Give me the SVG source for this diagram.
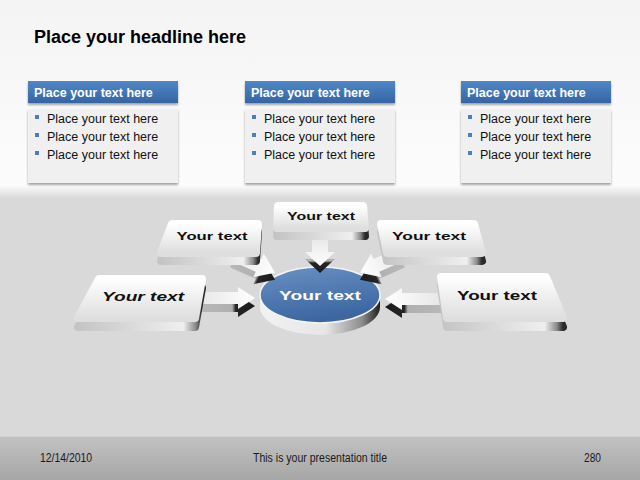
<svg xmlns="http://www.w3.org/2000/svg" xmlns:xlink="http://www.w3.org/1999/xlink" width="640" height="480" viewBox="0 0 640 480">
<defs>
<linearGradient id="bgTop" x1="0" y1="0" x2="0" y2="1"><stop offset="0" stop-color="#f4f4f4"/><stop offset="1" stop-color="#fcfcfc"/></linearGradient>
<linearGradient id="bgBand" x1="0" y1="0" x2="0" y2="1"><stop offset="0" stop-color="#fafafa"/><stop offset="1" stop-color="#d9d9d9"/></linearGradient>
<linearGradient id="footG" x1="0" y1="0" x2="0" y2="1"><stop offset="0" stop-color="#c2c2c2"/><stop offset="1" stop-color="#a6a6a6"/></linearGradient>
<linearGradient id="headG" x1="0" y1="0" x2="0" y2="1"><stop offset="0" stop-color="#5187c6"/><stop offset="1" stop-color="#3664a4"/></linearGradient>
<linearGradient id="faceG" x1="0" y1="0" x2="0" y2="1"><stop offset="0" stop-color="#ffffff"/><stop offset="1" stop-color="#dedede"/></linearGradient>
<linearGradient id="sideG" x1="0" y1="0" x2="1" y2="0"><stop offset="0" stop-color="#c4c4c4"/><stop offset="0.85" stop-color="#efefef"/><stop offset="0.95" stop-color="#8a8a8a"/><stop offset="1" stop-color="#2a2a2a"/></linearGradient>
<linearGradient id="arrFace" x1="0" y1="0" x2="1" y2="0"><stop offset="0" stop-color="#e6e6e6"/><stop offset="1" stop-color="#ffffff"/></linearGradient>
<linearGradient id="arrSide" x1="0" y1="0" x2="1" y2="0"><stop offset="0" stop-color="#b8b8b8"/><stop offset="0.6" stop-color="#b0b0b0"/><stop offset="0.66" stop-color="#262626"/><stop offset="1" stop-color="#1a1a1a"/></linearGradient>
<linearGradient id="discG" x1="0" y1="0" x2="0.3" y2="1"><stop offset="0" stop-color="#6a91c4"/><stop offset="1" stop-color="#3b66a0"/></linearGradient>
<linearGradient id="cylG" x1="0" y1="0" x2="1" y2="0"><stop offset="0" stop-color="#f2f2f2"/><stop offset="0.55" stop-color="#e6e6e6"/><stop offset="0.85" stop-color="#8c8c8c"/><stop offset="1" stop-color="#1e1e1e"/></linearGradient>
<filter id="sh" x="-10%" y="-10%" width="120%" height="140%"><feDropShadow dx="0" dy="2" stdDeviation="1.2" flood-color="#000" flood-opacity="0.35"/></filter>
<style>
.hl{font-family:"Liberation Sans",Arial,sans-serif;font-weight:bold;font-size:18px;fill:#000}
.ph{font-family:"Liberation Sans",Arial,sans-serif;font-weight:bold;font-size:12.5px;fill:#fff}
.bt{font-family:"Liberation Sans",Arial,sans-serif;font-size:12.5px;fill:#111}
.bul{fill:#4a7cc0}
.body{fill:#f0f0f0}
.head{fill:url(#headG)}
.ft{font-family:"Liberation Sans Narrow","Liberation Sans",Arial,sans-serif;font-size:12px;fill:#1a1a1a}
.face{fill:url(#faceG);stroke:url(#faceG);stroke-width:8;stroke-linejoin:round}
.side{fill:url(#sideG);stroke:url(#sideG);stroke-width:8;stroke-linejoin:round}
.yt{font-family:"Liberation Sans",Arial,sans-serif;font-weight:bold;fill:#111;text-anchor:middle}
.af{fill:url(#arrFace)}
.as{fill:url(#arrSide)}
</style>
<path id="aLong" d="M0,-6 L40,-6 L40,-11 L57,0 L40,11 L40,6 L0,6 Z"/>
<path id="aDiag" d="M0,-7 L28,-7 L28,-13 L46,0 L28,13 L28,7 L0,7 Z"/>
<path id="aShort" d="M0,-8 L16,-8 L16,-15 L30,0 L16,15 L16,8 L0,8 Z"/>
</defs>

<!-- background -->
<rect x="0" y="0" width="640" height="186" fill="url(#bgTop)"/>
<rect x="0" y="186" width="640" height="12" fill="url(#bgBand)"/>
<rect x="0" y="198" width="640" height="238" fill="#d9d9d9"/>
<rect x="0" y="436" width="640" height="44" fill="url(#footG)"/>
<line x1="0" y1="436.5" x2="640" y2="436.5" stroke="#d0d0d0" stroke-width="1"/>

<text class="hl" x="34" y="43">Place your headline here</text>

<!-- top panels -->
<g id="panel1">
  <rect class="body" x="28" y="109" width="150" height="74" filter="url(#sh)"/>
  <rect class="head" x="28" y="81" width="150" height="22" filter="url(#sh)"/>
  <text class="ph" x="34" y="97">Place your text here</text>
  <rect class="bul" x="35" y="115" width="4" height="4"/><text class="bt" x="47" y="123">Place your text here</text>
  <rect class="bul" x="35" y="133" width="4" height="4"/><text class="bt" x="47" y="141">Place your text here</text>
  <rect class="bul" x="35" y="151" width="4" height="4"/><text class="bt" x="47" y="159">Place your text here</text>
</g>
<g id="panel2">
  <rect class="body" x="245" y="109" width="150" height="74" filter="url(#sh)"/>
  <rect class="head" x="245" y="81" width="150" height="22" filter="url(#sh)"/>
  <text class="ph" x="251" y="97">Place your text here</text>
  <rect class="bul" x="252" y="115" width="4" height="4"/><text class="bt" x="264" y="123">Place your text here</text>
  <rect class="bul" x="252" y="133" width="4" height="4"/><text class="bt" x="264" y="141">Place your text here</text>
  <rect class="bul" x="252" y="151" width="4" height="4"/><text class="bt" x="264" y="159">Place your text here</text>
</g>
<g id="panel3">
  <rect class="body" x="461" y="109" width="150" height="74" filter="url(#sh)"/>
  <rect class="head" x="461" y="81" width="150" height="22" filter="url(#sh)"/>
  <text class="ph" x="467" y="97">Place your text here</text>
  <rect class="bul" x="468" y="115" width="4" height="4"/><text class="bt" x="480" y="123">Place your text here</text>
  <rect class="bul" x="468" y="133" width="4" height="4"/><text class="bt" x="480" y="141">Place your text here</text>
  <rect class="bul" x="468" y="151" width="4" height="4"/><text class="bt" x="480" y="159">Place your text here</text>
</g>

<!-- center disc -->
<g id="center">
  <path d="M260,295 A60,28 0 0,0 380,295 L380,307 A60,28 0 0,1 260,307 Z" fill="url(#cylG)"/>
  <ellipse cx="320" cy="295" rx="60" ry="28" fill="url(#discG)" stroke="#f4f4f4" stroke-width="1.5"/>
  <text class="yt" x="320" y="300" font-size="13" style="fill:#fff" textLength="82" lengthAdjust="spacingAndGlyphs">Your text</text>
</g>

<!-- connectors -->
<g id="connectors">
  <use xlink:href="#aLong" class="as" transform="translate(198,306)"/>
  <use xlink:href="#aLong" class="af" transform="translate(198,298)"/>
  <use xlink:href="#aLong" class="as" transform="translate(442,307) rotate(180)"/>
  <use xlink:href="#aLong" class="af" transform="translate(442,299) rotate(180)"/>
  <use xlink:href="#aShort" class="as" transform="translate(320,243) rotate(90)"/>
  <use xlink:href="#aShort" class="af" transform="translate(320,236) rotate(90)"/>
  <use xlink:href="#aDiag" class="as" transform="translate(233,261) rotate(24)"/>
  <use xlink:href="#aDiag" class="af" transform="translate(233,254) rotate(24)"/>
  <use xlink:href="#aDiag" class="as" transform="translate(402,261) rotate(156)"/>
  <use xlink:href="#aDiag" class="af" transform="translate(402,254) rotate(156)"/>
</g>

<!-- boxes -->
<g id="boxTopLeft">
  <polygon class="side" points="172,232 258,232 256,261 161,261"/>
  <polygon class="face" points="172,224 258,224 256,253 161,253"/>
  <text class="yt" x="212" y="240" font-size="11" textLength="71" lengthAdjust="spacingAndGlyphs">Your text</text>
</g>
<g id="boxTop">
  <polygon class="side" points="278,214 363,214 365,236 277,236"/>
  <polygon class="face" points="278,206 363,206 365,228 277,228"/>
  <text class="yt" x="321" y="220" font-size="11" textLength="68" lengthAdjust="spacingAndGlyphs">Your text</text>
</g>
<g id="boxTopRight">
  <polygon class="side" points="381,232 474,232 482,261 387,261"/>
  <polygon class="face" points="381,224 474,224 482,253 387,253"/>
  <text class="yt" x="429" y="240" font-size="11" textLength="74" lengthAdjust="spacingAndGlyphs">Your text</text>
</g>
<g id="boxLeft">
  <polygon class="side" points="99,288 202,288 195,327 78,327"/>
  <polygon class="face" points="99,279 202,279 195,318 78,318"/>
  <text class="yt" x="143" y="301" font-size="13" font-style="italic" textLength="82" lengthAdjust="spacingAndGlyphs">Your text</text>
</g>
<g id="boxRight">
  <polygon class="side" points="441,286 546,286 563,327 447,327"/>
  <polygon class="face" points="441,277 546,277 563,318 447,318"/>
  <text class="yt" x="497" y="300" font-size="13" textLength="80" lengthAdjust="spacingAndGlyphs">Your text</text>
</g>

<!-- footer -->
<text class="ft" x="40" y="462" textLength="52" lengthAdjust="spacingAndGlyphs">12/14/2010</text>
<text class="ft" x="253" y="462" textLength="134" lengthAdjust="spacingAndGlyphs">This is your presentation title</text>
<text class="ft" x="584" y="462" textLength="17" lengthAdjust="spacingAndGlyphs">280</text>
</svg>
